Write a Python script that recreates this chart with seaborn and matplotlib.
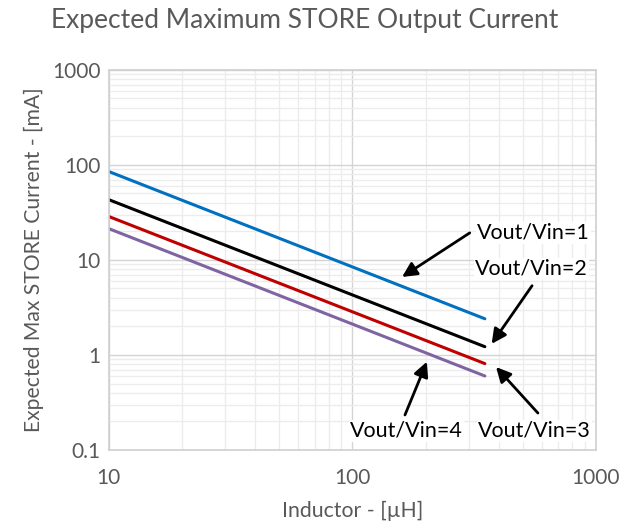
import pandas as pd
import seaborn as sns
import matplotlib.pyplot as plt

# Values (log-log, straight lines)
inductance_uH = [10, 350]
vout_vin_1 = [85, 2.4]
vout_vin_2 = [43, 1.22]
vout_vin_3 = [28.6, 0.81]
vout_vin_4 = [21.3, 0.6]
series_names = ["Vout/Vin=1", "Vout/Vin=2", "Vout/Vin=3", "Vout/Vin=4"]
series_colors = ["#0070C0", "#000000", "#C00000", "#8064A2"]

rows = []
for name, vals in zip(series_names, [vout_vin_1, vout_vin_2, vout_vin_3, vout_vin_4]):
    for x, y in zip(inductance_uH, vals):
        rows.append({"L": x, "I": y, "ratio": name})
df = pd.DataFrame(rows)

sns.set_style("white")
plt.rcParams['font.family'] = ['Lato', 'DejaVu Sans']
grey = "#595959"

fig = plt.figure(figsize=(6.22, 5.25), dpi=100)
ax = fig.add_axes([0.175, 0.143, 0.783, 0.724])

sns.lineplot(data=df, x="L", y="I", hue="ratio", palette=series_colors,
             linewidth=2.2, legend=False, ax=ax)

ax.set_xscale("log")
ax.set_yscale("log")
ax.set_xlim(10, 1000)
ax.set_ylim(0.1, 1000)
ax.set_xticks([10, 100, 1000])
ax.set_xticklabels(["10", "100", "1000"])
ax.set_yticks([0.1, 1, 10, 100, 1000])
ax.set_yticklabels(["0.1", "1", "10", "100", "1000"])
ax.tick_params(axis="both", which="both", length=0, labelsize=15, colors=grey, pad=6)
ax.tick_params(axis="x", pad=13)

ax.grid(True, which="major", color="#d4d4d4", linewidth=1.0)
ax.grid(True, which="minor", color="#ececec", linewidth=1.0)
ax.set_axisbelow(True)
for s in ax.spines.values():
    s.set_color("#d0d0d0")
    s.set_linewidth(1.2)

ax.set_xlabel("Inductor - [µH]", fontsize=15.3, color=grey, labelpad=9)
ax.set_ylabel("Expected Max STORE Current - [mA]", fontsize=15.2, color=grey, labelpad=6)
fig.suptitle("Expected Maximum STORE Output Current", fontsize=19, color=grey,
             x=0.49, y=0.985)

# callouts: (text position, arrow tail, arrow head) in axes fraction
callouts = [
    ("Vout/Vin=1", (0.756, 0.571), (0.741, 0.571), (0.602, 0.455)),
    ("Vout/Vin=2", (0.752, 0.476), (0.869, 0.432), (0.786, 0.279)),
    ("Vout/Vin=3", (0.758, 0.05), (0.881, 0.097), (0.795, 0.218)),
    ("Vout/Vin=4", (0.495, 0.05), (0.608, 0.092), (0.653, 0.232)),
]
for label, tpos, tail, head in callouts:
    ax.annotate("", xy=head, xytext=tail, xycoords="axes fraction",
                textcoords="axes fraction",
                arrowprops=dict(arrowstyle="-|>", color="black", lw=2,
                                mutation_scale=22, shrinkA=0, shrinkB=0))
    ax.text(tpos[0], tpos[1], label, transform=ax.transAxes, fontsize=15.5,
            color="black", va="center", ha="left",
            bbox=dict(facecolor="white", edgecolor="none", pad=1))

fig.savefig("out.png", dpi=100)
